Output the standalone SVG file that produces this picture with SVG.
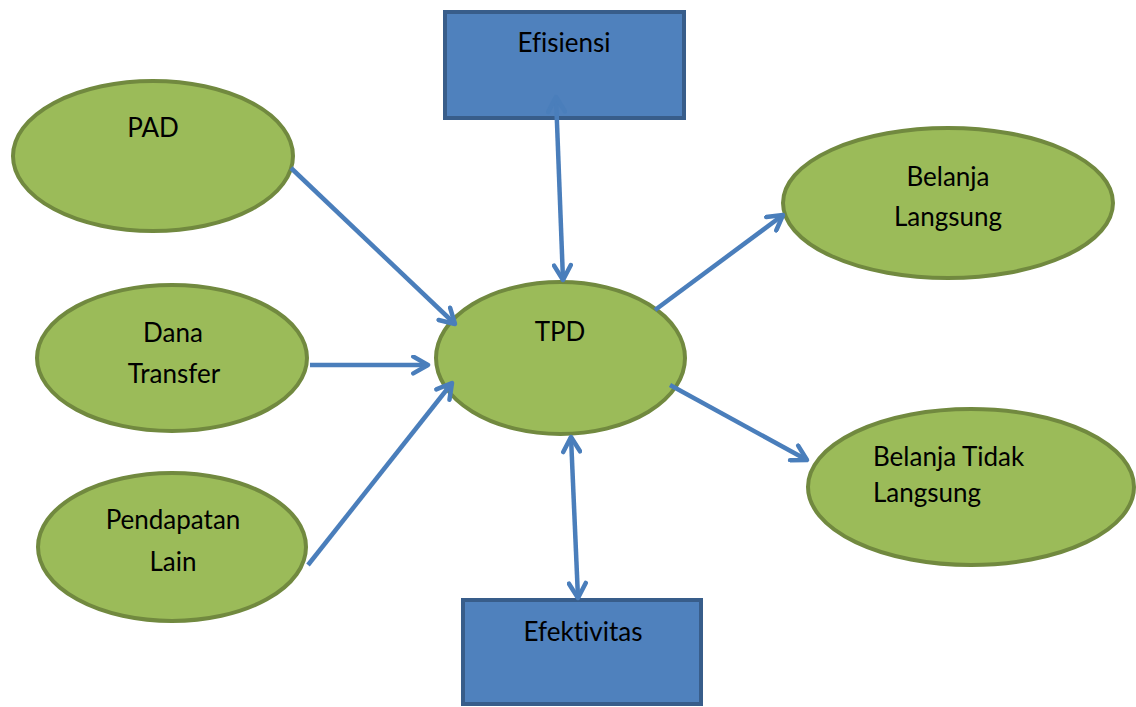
<svg xmlns="http://www.w3.org/2000/svg" width="1136" height="707" viewBox="0 0 1136 707">
<defs>
<style>
.ell{fill:#9BBB59;stroke:#71893F;stroke-width:4}
.box{fill:#4F81BD;stroke:#385D8A;stroke-width:4}
.lbl{font-family:Lato,"Liberation Sans",sans-serif;font-size:26px;fill:#000;font-variant-ligatures:none;font-feature-settings:"liga" 0}
.c{text-anchor:middle}
.con{stroke:#4A7EBB;stroke-width:4.5;fill:none}
</style>
<marker id="ah" viewBox="0 0 20 20" refX="17" refY="10" markerWidth="21" markerHeight="21" markerUnits="userSpaceOnUse" orient="auto-start-reverse">
<path d="M3,2 L17,10 L3,18" fill="none" stroke="#4A7EBB" stroke-width="4.3" stroke-linecap="round" stroke-linejoin="round"/>
</marker>
</defs>
<rect width="1136" height="707" fill="#fff"/>
<g id="efisiensi">
<rect class="box" x="445" y="12" width="239" height="106"/>
<text class="lbl c" x="564" y="52">Efisiensi</text>
</g>
<g id="efektivitas">
<rect class="box" x="463" y="600" width="238" height="104"/>
<text class="lbl c" x="583" y="641">Efektivitas</text>
</g>
<g id="pad">
<ellipse class="ell" cx="153" cy="156" rx="140" ry="75"/>
<text class="lbl c" x="153" y="137">PAD</text>
</g>
<g id="dana-transfer">
<ellipse class="ell" cx="172" cy="358" rx="135" ry="73"/>
<text class="lbl c" x="173" y="342">Dana</text>
<text class="lbl c" x="174" y="383">Transfer</text>
</g>
<g id="pendapatan-lain">
<ellipse class="ell" cx="172" cy="547" rx="134" ry="74"/>
<text class="lbl c" x="173" y="529">Pendapatan</text>
<text class="lbl c" x="173" y="571">Lain</text>
</g>
<g id="tpd">
<ellipse class="ell" cx="560.5" cy="358" rx="124.5" ry="76"/>
<text class="lbl c" x="560" y="341">TPD</text>
</g>
<g id="belanja-langsung">
<ellipse class="ell" cx="948" cy="203" rx="165" ry="75"/>
<text class="lbl c" x="948" y="186">Belanja</text>
<text class="lbl c" x="948" y="226">Langsung</text>
</g>
<g id="belanja-tidak-langsung">
<ellipse class="ell" cx="971" cy="487" rx="163" ry="78"/>
<text class="lbl" x="873" y="466">Belanja Tidak</text>
<text class="lbl" x="873" y="502">Langsung</text>
</g>
<g id="connectors">
<line class="con" x1="291" y1="168" x2="455" y2="324" marker-end="url(#ah)"/>
<line class="con" x1="310" y1="365" x2="428" y2="365" marker-end="url(#ah)"/>
<line class="con" x1="308" y1="565" x2="452" y2="383" marker-end="url(#ah)"/>
<line class="con" x1="556" y1="97" x2="563" y2="280" marker-start="url(#ah)" marker-end="url(#ah)"/>
<line class="con" x1="571" y1="437" x2="578" y2="598" marker-start="url(#ah)" marker-end="url(#ah)"/>
<line class="con" x1="655" y1="310" x2="783" y2="215" marker-end="url(#ah)"/>
<line class="con" x1="670" y1="385" x2="807" y2="460" marker-end="url(#ah)"/>
</g>
</svg>
